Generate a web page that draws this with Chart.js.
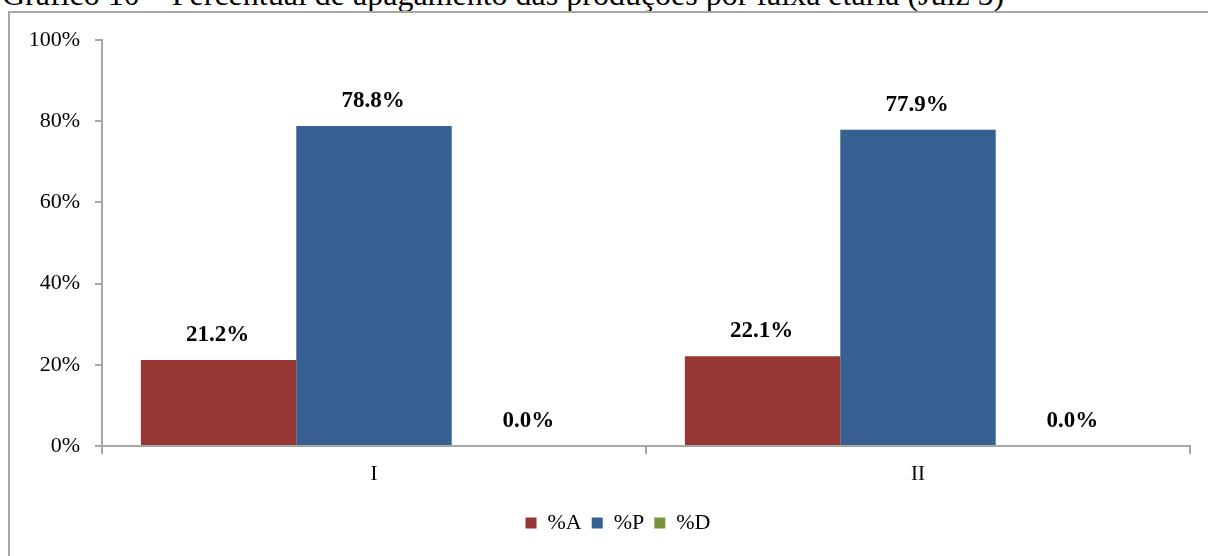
<!DOCTYPE html>
<html>
<head>
<meta charset="utf-8">
<script src="https://cdn.jsdelivr.net/npm/chart.js@4"></script>
<style>
  html, body { margin: 0; padding: 0; background: #fff; }
  #wrap { position: relative; width: 1208px; height: 556px; overflow: hidden; }
  #title { position: absolute; left: 2px; top: -22px; font-family: "Liberation Serif", "Times New Roman", serif;
           font-size: 32px; line-height: 32px; white-space: nowrap; color: #000; }
  #frame { position: absolute; left: 8px; top: 11px; width: 1300px; height: 700px;
           border-left: 2px solid #a6a6a6; border-top: 2px solid #a6a6a6; }
  #c { position: absolute; left: 0; top: 0; }
</style>
</head>
<body>
<div id="wrap">
  <div id="title">Gráfico 10 – Percentual de apagamento das produções por faixa etária (Juiz 5)</div>
  <div id="frame"></div>
  <canvas id="c" width="1208" height="556"></canvas>
</div>
<script>
// data
var categories = ["I", "II"];
var seriesNames = ["%A", "%P", "%D"];
var valuesA = [21.2, 22.1];
var valuesP = [78.8, 77.9];
var valuesD = [0.0, 0.0];
var yTicks = [0, 20, 40, 60, 80, 100];

var serif = "'Liberation Serif', 'Times New Roman', serif";
var axisGray = "#a6a6a6";

// labels over each bar, like excel data labels
var barLabels = {
	id: "barLabels",
	afterDatasetsDraw: function(chart) {
		var ctx = chart.ctx;
		ctx.save();
		ctx.font = "bold 23px " + serif;
		ctx.fillStyle = "#000";
		ctx.textAlign = "center";
		ctx.textBaseline = "middle";
		chart.data.datasets.forEach(function(ds, i) {
			var meta = chart.getDatasetMeta(i);
			meta.data.forEach(function(bar, j) {
				ctx.fillText(ds.data[j].toFixed(1) + "%", bar.x - 1, bar.y - 25);
			});
		});
		ctx.restore();
	}
};

// the excel legend sits a bit right of the canvas centre
var legendShift = {
	id: "legendShift",
	afterLayout: function(chart) {
		chart.legend.left += 23;
		chart.legend.right += 23;
	}
};

var ctx = document.getElementById("c");

var myBarChart = new Chart(ctx, {
	type: "bar",
	data: {
		labels: categories,
		datasets: [
			{ label: seriesNames[0], data: valuesA, backgroundColor: "#953735" },
			{ label: seriesNames[1], data: valuesP, backgroundColor: "#376092" },
			{ label: seriesNames[2], data: valuesD, backgroundColor: "#77933C" }
		]
	},
	options: {
		responsive: false,
		animation: false,
		layout: { padding: { left: 0, right: 18, top: 40, bottom: 12 } },
		datasets: { bar: { categoryPercentage: 3 / 3.5, barPercentage: 1.0 } },
		plugins: {
			tooltip: { enabled: false },
			legend: {
				position: "bottom",
				labels: {
					boxWidth: 11, boxHeight: 11, padding: 10,
					color: "#000",
					font: { family: serif, size: 22 }
				}
			}
		},
		scales: {
			x: {
				grid: { offset: true, drawOnChartArea: false, color: axisGray, lineWidth: 2, tickLength: 8 },
				border: { color: axisGray, width: 2 },
				ticks: { color: "#000", font: { family: serif, size: 21 }, padding: 8 },
				afterFit: function(scale) { scale.height = 56; }
			},
			y: {
				min: 0, max: 100,
				afterBuildTicks: function(scale) {
					scale.ticks = yTicks.map(function(v) { return { value: v }; });
				},
				grid: { drawOnChartArea: false, color: axisGray, lineWidth: 2, tickLength: 7 },
				border: { color: axisGray, width: 2 },
				ticks: {
					color: "#000", font: { family: serif, size: 22 }, padding: 15,
					callback: function(v) { return v + "%"; }
				},
				afterFit: function(scale) { scale.width = 102; }
			}
		}
	},
	plugins: [barLabels, legendShift]
});
</script>
</body>
</html>
